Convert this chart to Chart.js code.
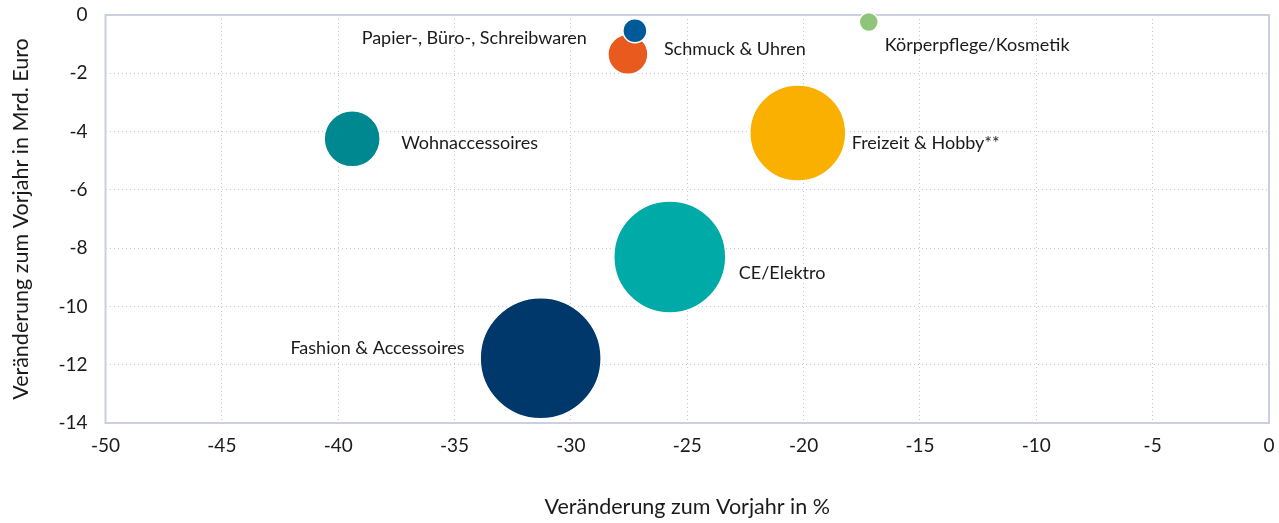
<!DOCTYPE html>
<html lang="de">
<head>
<meta charset="utf-8">
<title>Veränderung zum Vorjahr</title>
<script src="https://cdn.jsdelivr.net/npm/chart.js@4.4.1/dist/chart.umd.min.js"></script>
<style>
  html, body { margin: 0; padding: 0; background: #fff; }
  #wrap { width: 1279px; height: 523px; position: relative; }
</style>
</head>
<body>
<div id="wrap"><canvas id="bubbleChart"></canvas></div>
<script>
// Daten
const categories = [
  'Fashion & Accessoires',
  'CE/Elektro',
  'Freizeit & Hobby**',
  'Wohnaccessoires',
  'Schmuck & Uhren',
  'Papier-, Büro-, Schreibwaren',
  'Körperpflege/Kosmetik'
];
const changePercent = [-31.3, -25.75, -20.25, -39.4, -27.55, -27.25, -17.2];   // x
const changeBillion = [-11.78, -8.3, -4.05, -4.25, -1.35, -0.54, -0.24];      // y
const bubbleRadius  = [60.5, 56, 48, 28, 20, 12, 9.5];                        // Blasengröße
const xTicks = [-50, -45, -40, -35, -30, -25, -20, -15, -10, -5, 0];
const yTicks = [-14, -12, -10, -8, -6, -4, -2, 0];

// Farben und Beschriftungsversatz (nur Darstellung)
const colors = ['#00386b', '#00aaa6', '#f9b000', '#008891', '#e95a1e', '#005a97', '#8fc57a'];
const labelOffsets = [
  { dx: -76, dy: -10, align: 'right' },
  { dx: 69, dy: 16, align: 'left' },
  { dx: 54, dy: 10, align: 'left' },
  { dx: 49, dy: 4, align: 'left' },
  { dx: 36, dy: -5, align: 'left' },
  { dx: -48, dy: 7, align: 'right' },
  { dx: 16, dy: 23, align: 'left' }
];

const FONT = 'Lato, "Open Sans", sans-serif';
const TEXT = '#1a1a1a';

// Rahmen um die Zeichenfläche
const framePlugin = {
  id: 'frame',
  beforeDatasetsDraw(chart) {
    const { ctx, chartArea: a } = chart;
    ctx.save();
    ctx.strokeStyle = '#cbcfe2';
    ctx.lineWidth = 2;
    ctx.strokeRect(a.left, a.top, a.right - a.left, a.bottom - a.top);
    ctx.restore();
  }
};

// Beschriftung neben den Blasen
const bubbleLabels = {
  id: 'bubbleLabels',
  afterDatasetsDraw(chart) {
    const { ctx } = chart;
    const meta = chart.getDatasetMeta(0);
    ctx.save();
    ctx.font = '18px ' + FONT;
    ctx.fillStyle = TEXT;
    ctx.textBaseline = 'middle';
    meta.data.forEach((pt, i) => {
      const o = labelOffsets[i];
      ctx.textAlign = o.align;
      ctx.fillText(categories[i], pt.x + o.dx, pt.y + o.dy);
    });
    ctx.restore();
  }
};

new Chart(document.getElementById('bubbleChart'), {
  type: 'bubble',
  data: {
    labels: categories,
    datasets: [{
      data: categories.map((_, i) => ({ x: changePercent[i], y: changeBillion[i], r: bubbleRadius[i] })),
      backgroundColor: colors,
      hoverBackgroundColor: colors,
      borderColor: '#ffffff',
      borderWidth: 1.5,
      hoverBorderWidth: 1.5,
      clip: false
    }]
  },
  options: {
    responsive: true,
    maintainAspectRatio: false,
    animation: false,
    events: [],
    layout: { autoPadding: false, padding: { top: 15, right: 10, left: 0, bottom: 0 } },
    plugins: {
      legend: { display: false },
      tooltip: { enabled: false }
    },
    scales: {
      x: {
        type: 'linear',
        min: -50,
        max: 0,
        afterBuildTicks: s => { s.ticks = xTicks.map(v => ({ value: v })); },
        afterFit: s => { s.height = 100; s.paddingLeft = 0; s.paddingRight = 0; },
        ticks: { color: TEXT, font: { family: FONT, size: 19 }, padding: 11 },
        grid: { color: '#c4c4e2', drawTicks: false, lineWidth: 1 },
        border: { display: false, dash: [1, 3] },
        title: {
          display: true,
          text: 'Veränderung zum Vorjahr in %',
          color: TEXT,
          font: { family: FONT, size: 21.5 },
          padding: { top: 0, bottom: 3 }
        }
      },
      y: {
        type: 'linear',
        min: -14,
        max: 0,
        afterBuildTicks: s => { s.ticks = yTicks.map(v => ({ value: v })); },
        afterFit: s => { s.width = 105.5; s.paddingTop = 0; s.paddingBottom = 0; },
        ticks: { color: TEXT, font: { family: FONT, size: 19 }, padding: 18 },
        grid: { color: '#c4c4e2', drawTicks: false, lineWidth: 1 },
        border: { display: false, dash: [1, 3] },
        title: {
          display: true,
          text: 'Veränderung zum Vorjahr in Mrd. Euro',
          color: TEXT,
          font: { family: FONT, size: 21.5 },
          padding: { top: 8, bottom: 0 }
        }
      }
    }
  },
  plugins: [framePlugin, bubbleLabels]
});
</script>
</body>
</html>
